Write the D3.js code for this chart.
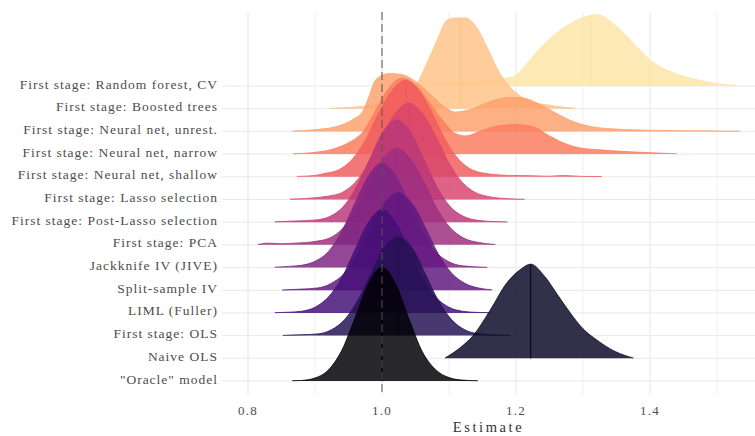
<!DOCTYPE html>
<html>
<head>
<meta charset="utf-8">
<script src="https://cdn.jsdelivr.net/npm/d3@7/dist/d3.min.js"></script>
<style>
  body { margin: 0; background: #fff; }
  svg text { font-family: "Liberation Serif", "DejaVu Serif", serif; }
</style>
</head>
<body>
<svg id="chart" width="755" height="436"></svg>
<script>
// Estimators, bottom row first
const methods = [
  "\"Oracle\" model",
  "Naive OLS",
  "First stage: OLS",
  "LIML (Fuller)",
  "Split-sample IV",
  "Jackknife IV (JIVE)",
  "First stage: PCA",
  "First stage: Post-Lasso selection",
  "First stage: Lasso selection",
  "First stage: Neural net, shallow",
  "First stage: Neural net, narrow",
  "First stage: Neural net, unrest.",
  "First stage: Boosted trees",
  "First stage: Random forest, CV"
];

// Density of the estimates for each estimator: [estimate, density]
const densOracle = [[0.866,0.02],[0.88,0.05],[0.90,0.26],[0.92,0.97],[0.94,2.7],[0.96,5.6],[0.98,8.6],[1.00,10.0],[1.02,8.6],[1.04,5.5],[1.06,2.6],[1.08,1.0],[1.10,0.3],[1.12,0.08],[1.143,0.02]];
const densNaive = [[1.094,0.02],[1.116,0.9],[1.136,2.0],[1.161,4.2],[1.187,6.7],[1.206,7.8],[1.222,8.3],[1.243,7.2],[1.262,5.6],[1.281,4.0],[1.30,2.6],[1.321,1.6],[1.348,0.6],[1.375,0.03]];
const densOLS = [[0.852,0.02],[0.88,0.08],[0.904,0.15],[0.924,0.5],[0.944,1.4],[0.964,3.1],[0.984,5.5],[1.004,7.8],[1.024,8.7],[1.044,7.8],[1.064,5.5],[1.084,3.1],[1.104,1.4],[1.124,0.5],[1.144,0.16],[1.17,0.05],[1.191,0.02]];
const densLIML = [[0.840,0.02],[0.86,0.06],[0.88,0.15],[0.90,0.5],[0.92,1.4],[0.94,3.1],[0.96,5.6],[0.98,8.0],[1.00,9.1],[1.02,8.0],[1.04,5.6],[1.06,3.1],[1.08,1.4],[1.10,0.5],[1.12,0.15],[1.14,0.05],[1.161,0.02]];
const densSplit = [[0.851,0.02],[0.88,0.1],[0.904,0.2],[0.924,0.6],[0.944,1.5],[0.964,3.2],[0.984,5.6],[1.004,7.7],[1.024,8.6],[1.044,7.7],[1.064,5.6],[1.084,3.2],[1.104,1.5],[1.124,0.6],[1.144,0.2],[1.164,0.03]];
const densJIVE = [[0.840,0.03],[0.86,0.1],[0.88,0.2],[0.90,0.55],[0.92,1.4],[0.94,3.2],[0.96,5.7],[0.98,8.1],[1.00,9.2],[1.02,8.1],[1.04,5.7],[1.06,3.2],[1.08,1.4],[1.10,0.5],[1.12,0.15],[1.157,0.02]];
const densPCA = [[0.815,0.03],[0.83,0.15],[0.85,0.1],[0.87,0.15],[0.90,0.3],[0.922,0.6],[0.942,1.5],[0.962,3.2],[0.982,5.6],[1.002,7.6],[1.022,8.5],[1.042,7.6],[1.062,5.6],[1.082,3.2],[1.102,1.5],[1.122,0.6],[1.145,0.2],[1.169,0.03]];
const densPostLasso = [[0.840,0.03],[0.87,0.1],[0.902,0.2],[0.922,0.5],[0.942,1.35],[0.962,3.1],[0.982,5.6],[1.002,8.0],[1.022,9.0],[1.042,8.0],[1.062,5.6],[1.082,3.1],[1.102,1.35],[1.122,0.5],[1.145,0.15],[1.165,0.06],[1.187,0.02]];
const densLasso = [[0.863,0.03],[0.90,0.15],[0.92,0.3],[0.94,0.6],[0.96,1.5],[0.98,3.2],[1.00,5.6],[1.02,7.6],[1.04,8.5],[1.06,7.6],[1.08,5.6],[1.10,3.2],[1.12,1.5],[1.14,0.6],[1.16,0.25],[1.185,0.08],[1.213,0.02]];
const densShallow = [[0.873,0.03],[0.90,0.12],[0.915,0.3],[0.935,0.6],[0.955,1.5],[0.975,3.2],[0.995,5.6],[1.015,7.6],[1.035,8.5],[1.055,7.6],[1.075,5.6],[1.095,3.2],[1.115,1.5],[1.135,0.6],[1.16,0.25],[1.19,0.12],[1.22,0.1],[1.25,0.05],[1.27,0.12],[1.30,0.03],[1.328,0.02]];
const densNarrow = [[0.867,0.03],[0.90,0.15],[0.93,0.5],[0.95,1.0],[0.972,2.0],[0.99,3.8],[1.01,5.8],[1.03,6.7],[1.05,6.1],[1.07,4.6],[1.09,3.0],[1.11,1.8],[1.125,1.6],[1.15,2.1],[1.175,2.5],[1.20,2.6],[1.225,2.4],[1.25,1.6],[1.27,1.0],[1.295,0.55],[1.33,0.35],[1.37,0.2],[1.40,0.12],[1.44,0.03]];
const densUnrest = [[0.867,0.03],[0.90,0.15],[0.93,0.4],[0.955,1.0],[0.972,1.85],[0.982,3.3],[0.99,4.5],[1.01,5.1],[1.03,5.0],[1.05,4.4],[1.07,3.4],[1.09,2.3],[1.11,1.7],[1.13,1.9],[1.16,2.6],[1.19,3.0],[1.21,2.95],[1.235,2.4],[1.26,1.6],[1.28,1.0],[1.31,0.45],[1.35,0.2],[1.40,0.1],[1.45,0.06],[1.50,0.04],[1.534,0.02]];
const densBoosted = [[0.922,0.03],[0.96,0.15],[0.99,0.35],[1.02,0.9],[1.037,1.4],[1.052,2.2],[1.067,4.0],[1.082,6.0],[1.097,7.8],[1.11,8.0],[1.125,8.0],[1.142,7.1],[1.157,5.4],[1.176,3.1],[1.196,1.6],[1.22,0.7],[1.25,0.3],[1.288,0.03]];
const densForest = [[1.02,0.03],[1.07,0.15],[1.12,0.35],[1.16,0.55],[1.196,0.8],[1.215,1.9],[1.231,3.0],[1.261,4.7],[1.291,5.8],[1.321,6.3],[1.351,5.2],[1.375,3.8],[1.40,2.3],[1.425,1.4],[1.46,0.7],[1.494,0.27],[1.53,0.05]];

const densities = [densOracle, densNaive, densOLS, densLIML, densSplit, densJIVE, densPCA,
  densPostLasso, densLasso, densShallow, densNarrow, densUnrest, densBoosted, densForest];

const majorTicks = [0.8, 1.0, 1.2, 1.4];
const minorTicks = [0.9, 1.1, 1.3, 1.5];
const trueValue = 1.0;

const svg = d3.select("#chart");
const panel = { left: 222, right: 755, top: 12, bottom: 395 };

const x = d3.scaleLinear().domain([0.8, 1.5]).range([248, 717]);
const y = d3.scalePoint().domain(methods).range([381, 86]);
const step = y.step();
const h = d3.scaleLinear().domain([0, 1]).range([0, step * 0.5]);
const color = (i) => d3.interpolateMagma(i / 13.7);

// Grid
const grid = svg.append("g");
grid.selectAll("line.minor").data(minorTicks).join("line")
  .attr("x1", d => x(d)).attr("x2", d => x(d))
  .attr("y1", panel.top).attr("y2", panel.bottom)
  .attr("stroke", "#f0f0f0").attr("stroke-width", 1);
grid.selectAll("line.major").data(majorTicks).join("line")
  .attr("x1", d => x(d)).attr("x2", d => x(d))
  .attr("y1", panel.top).attr("y2", panel.bottom)
  .attr("stroke", "#e6e6e6").attr("stroke-width", 1);
grid.selectAll("line.row").data(methods).join("line")
  .attr("x1", panel.left).attr("x2", panel.right)
  .attr("y1", d => y(d)).attr("y2", d => y(d))
  .attr("stroke", "#e9e9e9").attr("stroke-width", 1);

// Median of a piecewise-linear density
function median(pts) {
  const cum = [0];
  for (let k = 1; k < pts.length; k++) {
    cum.push(cum[k - 1] + (pts[k][0] - pts[k - 1][0]) * (pts[k][1] + pts[k - 1][1]) / 2);
  }
  const half = cum[cum.length - 1] / 2;
  let k = 1;
  while (cum[k] < half) k++;
  const f = (half - cum[k - 1]) / (cum[k] - cum[k - 1]);
  const m = pts[k - 1][0] + f * (pts[k][0] - pts[k - 1][0]);
  const dm = pts[k - 1][1] + f * (pts[k][1] - pts[k - 1][1]);
  return [m, dm];
}

// Ridges, top row first so lower rows overlap the ones above
const ridges = svg.append("g");
for (let i = methods.length - 1; i >= 0; i--) {
  const base = y(methods[i]);
  const pts = densities[i];
  const c = color(i);
  const g = ridges.append("g");
  const area = d3.area().curve(d3.curveMonotoneX)
    .x(d => x(d[0])).y0(base).y1(d => base - h(d[1]));
  const line = d3.line().curve(d3.curveMonotoneX)
    .x(d => x(d[0])).y(d => base - h(d[1]));
  g.append("path").datum(pts).attr("d", area)
    .attr("fill", c).attr("fill-opacity", 0.84);
  g.append("path").datum(pts).attr("d", line)
    .attr("fill", "none").attr("stroke", c).attr("stroke-width", 0.8);
  const [m, dm] = median(pts);
  g.append("line")
    .attr("x1", x(m)).attr("x2", x(m))
    .attr("y1", base).attr("y2", base - h(dm))
    .attr("stroke", c).attr("stroke-width", 1.3);
}

// Reference line at the true effect
svg.append("line")
  .attr("x1", x(trueValue)).attr("x2", x(trueValue))
  .attr("y1", panel.top).attr("y2", panel.bottom)
  .attr("stroke", "#555").attr("stroke-opacity", 0.6)
  .attr("stroke-width", 1.7).attr("stroke-dasharray", "8,4");

// Category labels
svg.append("g").selectAll("text").data(methods).join("text")
  .attr("x", 218).attr("y", d => y(d) - 2)
  .attr("text-anchor", "end").attr("dominant-baseline", "central")
  .attr("font-size", 13.5).attr("letter-spacing", 1.0).attr("fill", "#4d4d4d")
  .text(d => d);

// Estimate axis
svg.append("g").selectAll("text").data(majorTicks).join("text")
  .attr("x", d => x(d)).attr("y", 410)
  .attr("text-anchor", "middle").attr("dominant-baseline", "central")
  .attr("font-size", 13).attr("letter-spacing", 1.3).attr("fill", "#4d4d4d")
  .text(d => d3.format(".1f")(d));

svg.append("text")
  .attr("x", (panel.left + panel.right) / 2).attr("y", 427)
  .attr("text-anchor", "middle").attr("dominant-baseline", "central")
  .attr("font-size", 14.5).attr("letter-spacing", 2.6).attr("fill", "#333")
  .text("Estimate");
</script>
</body>
</html>
